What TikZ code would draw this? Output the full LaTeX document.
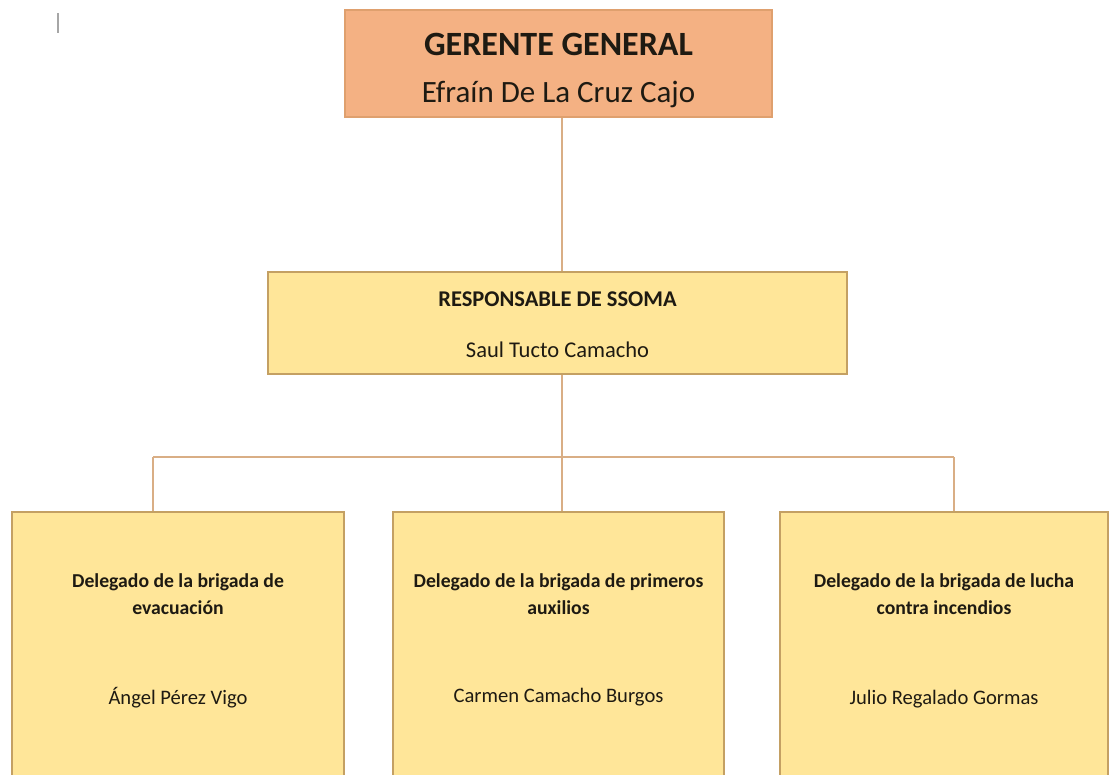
\documentclass[tikz,border=0pt]{standalone}
\usepackage{fontspec}
\setmainfont{Carlito}
\definecolor{orangefill}{HTML}{F4B183}
\definecolor{orangeline}{HTML}{DFA06E}
\definecolor{yellowfill}{HTML}{FFE699}
\definecolor{yellowline}{HTML}{C4A063}
\definecolor{connline}{HTML}{D9AE85}
\definecolor{inkdark}{HTML}{1E1A12}
\tikzset{
  topbox/.style={draw=orangeline, fill=orangefill, line width=1.4pt, rectangle, inner sep=0pt},
  ybox/.style={draw=yellowline, fill=yellowfill, line width=1.4pt, rectangle, inner sep=0pt},
  conn/.style={draw=connline, line width=1.5pt},
  txt/.style={anchor=base, inner sep=0pt, text=inkdark},
  bigb/.style={txt, font=\fontsize{34}{40}\selectfont\bfseries},
  bign/.style={txt, font=\fontsize{31}{37}\selectfont},
  ssb/.style={txt, font=\fontsize{22.5}{27}\selectfont\bfseries},
  ssn/.style={txt, font=\fontsize{22.5}{27}\selectfont},
  midb/.style={txt, font=\fontsize{19.7}{24}\selectfont\bfseries},
  midn/.style={txt, font=\fontsize{20.6}{25}\selectfont},
}
\begin{document}
\begin{tikzpicture}[x=1pt,y=-1pt]
\clip (0,0) rectangle (1111,774);
\fill[white] (0,0) rectangle (1111,774);
% cursor mark
\draw[gray!70, line width=1.6pt] (58,13) -- (58,33);
% boxes
\node[topbox, minimum width=427pt, minimum height=107pt] (gg) at (558.5,63.5) {};
\node[ybox, minimum width=579pt, minimum height=102pt] (ss) at (557.5,323) {};
\node[ybox, minimum width=332pt, minimum height=290pt] (d1) at (178,657) {};
\node[ybox, minimum width=331pt, minimum height=290pt] (d2) at (558.5,657) {};
\node[ybox, minimum width=328pt, minimum height=290pt] (d3) at (944,657) {};
% connectors
\coordinate (sp) at (562,0);
\coordinate (hL) at (153,457);
\coordinate (hR) at (954,457);
\draw[conn] (gg.south -| sp) -- (ss.north -| sp);
\draw[conn] (ss.south -| sp) -- (d2.north -| sp);
\draw[conn] (hL) -- (hR);
\draw[conn] (hL) -- (hL |- d1.north);
\draw[conn] (hR) -- (hR |- d3.north);
% texts
\node[bigb] (t1) at (558.5,55) {GERENTE GENERAL};
\node[bign] (n1) at (558.5,102) {Efraín De La Cruz Cajo};
\node[ssb] (t2) at (557.5,306) {RESPONSABLE DE SSOMA};
\node[ssn] (n2) at (557.5,357) {Saul Tucto Camacho};
\node[midb] (t3a) at (178,587) {Delegado de la brigada de};
\node[midb] (t3b) at (178,614) {evacuación};
\node[midn] (n3) at (178,704) {Ángel Pérez Vigo};
\node[midb] (t4a) at (558.5,587) {Delegado de la brigada de primeros};
\node[midb] (t4b) at (558.5,614) {auxilios};
\node[midn] (n4) at (558.5,702) {Carmen Camacho Burgos};
\node[midb] (t5a) at (944,587) {Delegado de la brigada de lucha};
\node[midb] (t5b) at (944,614) {contra incendios};
\node[midn] (n5) at (944,704) {Julio Regalado Gormas};
\end{tikzpicture}
\end{document}
